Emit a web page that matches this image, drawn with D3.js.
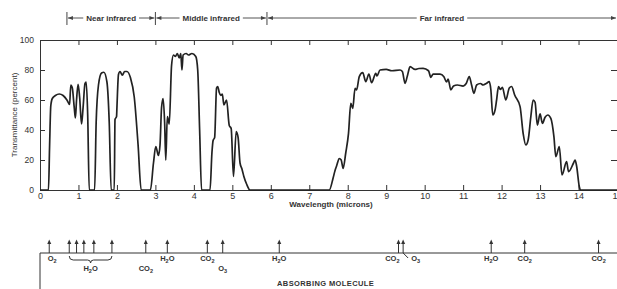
<!DOCTYPE html>
<html>
<head>
<meta charset="utf-8">
<script src="https://cdn.jsdelivr.net/npm/d3@7"></script>
<style>
  body { margin: 0; background: #fff; }
  text { font-family: "Liberation Sans", Arial, sans-serif; fill: #333; }
</style>
</head>
<body>
<div id="container"></div>
<script>

// Transmittance curve.
const wavelength = [
    0, 0.22, 0.25, 0.28, 0.32, 0.4, 0.5, 0.6, 0.7, 0.77, 0.8, 0.84, 0.89, 0.92, 0.95, 0.99, 1.03, 1.08, 1.12, 1.17, 1.2, 1.24, 1.28,
    1.42, 1.46, 1.52, 1.6, 1.66, 1.74, 1.8, 1.85,
    1.93, 1.95, 1.99, 2.0, 2.04, 2.08, 2.14, 2.2, 2.26, 2.35, 2.45, 2.55, 2.63,
    2.87, 2.95, 3.01, 3.08, 3.12, 3.16, 3.2, 3.24, 3.27, 3.31, 3.36, 3.42, 3.47, 3.52, 3.57, 3.62, 3.66, 3.69, 3.72, 3.8, 3.86, 3.95, 4.05, 4.1, 4.15, 4.2,
    4.42, 4.47, 4.5, 4.54, 4.59, 4.62, 4.66, 4.7, 4.74, 4.78, 4.85, 4.92, 4.97, 5.03, 5.1, 5.15, 5.2, 5.25, 5.3, 5.37, 5.46,
    7.52, 7.62, 7.67, 7.71, 7.78, 7.83, 7.88, 7.95, 8.02, 8.08, 8.13, 8.19, 8.23, 8.3, 8.39, 8.47, 8.55, 8.62, 8.73, 8.76, 8.84,
    9.0, 9.15, 9.36, 9.42, 9.49, 9.55, 9.62, 9.75, 9.85, 9.96, 10.1, 10.16, 10.22, 10.4, 10.5, 10.57, 10.61, 10.68, 10.75, 10.85, 11.0,
    11.08, 11.16, 11.22, 11.28, 11.35, 11.45, 11.52, 11.6, 11.68, 11.72, 11.77, 11.83, 11.87, 11.92, 11.97, 12.02, 12.11, 12.2, 12.26, 12.34,
    12.48, 12.56, 12.63, 12.69, 12.76, 12.82, 12.87, 12.93, 13.0, 13.06, 13.13, 13.2, 13.28, 13.36, 13.41, 13.5, 13.57, 13.69, 13.74, 13.87,
    13.91, 13.95, 14.02, 14.05, 15
];
const transmittance = [
    0, 0, 30, 56, 61, 63, 64, 63, 60, 57, 70, 68, 55, 48, 60, 70.5, 62, 44, 55, 71, 72, 50, 0,
    0, 45, 70, 78, 78.5, 72, 45, 0,
    0, 47, 49, 55, 77, 79, 76.5, 79, 79, 75, 62, 30, 0,
    0, 18, 29, 23, 30, 55, 61, 45, 20, 49, 44, 83, 90, 89, 91, 88, 91, 80, 90, 91, 90, 91, 89, 80, 40, 0,
    0, 25, 33, 35, 68, 69, 65, 63, 64, 56.7, 60, 43, 41, 9, 39, 35, 18, 14, 9, 4, 0,
    0, 8, 13, 16, 21, 20, 14.4, 25, 37.8, 57.8, 54.4, 67.8, 66.7, 75.6, 78.2, 72.2, 77.3, 71.6, 77.8, 76, 80,
    80.4, 79.5, 80, 79, 71.1, 76, 82.2, 80.4, 81, 81.1, 79.5, 75.1, 77.3, 77.3, 75.5, 72, 74, 66.7, 69.3, 70, 69.3,
    71, 75.6, 70, 64.4, 70, 71, 70, 71, 72.2, 67, 50, 53.3, 60, 68.9, 67, 68.5, 60, 68, 69, 63.3,
    55.6, 37.8, 30, 33.3, 48.9, 60, 58.5, 43.3, 50.7, 44.4, 48.5, 50, 47.8, 35.6, 22.2, 28.9, 10, 18.9, 12.2, 18,
    20, 16, 2.2, 0, 0
];

const xTicks = d3.range(0, 16);
const yTicks = [0, 20, 40, 60, 80, 100];

// Infrared regions along the top.
const regionEdges = [0.7, 3.0, 5.9, 15];
const regionNames = ['Near infrared', 'Middle infrared', 'Far infrared'];

// Absorbing molecules along the bottom.
const moleculeNames = ['O2', 'H2O', 'CO2', 'H2O', 'CO2', 'O3', 'H2O', 'CO2', 'O3', 'H2O', 'CO2', 'CO2'];
const moleculeBands = [[0.24], [0.76, 0.95, 1.14, 1.4, 1.87], [2.75], [3.31], [4.35], [4.75], [6.22], [9.32], [9.44], [11.73], [12.6], [14.52]];


window.addEventListener('DOMContentLoaded', (event) => {

    const svg = d3.select('#container')
        .append('svg')
        .attr('width', 617)
        .attr('height', 289);

    const x = d3.scaleLinear().domain([0, 15]).range([40, 617]);
    const y = d3.scaleLinear().domain([0, 100]).range([190, 40]);

    // Axes, ticks all pointing inward.
    svg.append('g')
        .attr('transform', 'translate(0,190)')
        .call(d3.axisBottom(x).tickValues(xTicks).tickSize(-5).tickSizeOuter(0).tickPadding(2.5))
        .call(g => g.selectAll('text').attr('font-size', 9));

    svg.append('g')
        .attr('transform', 'translate(0,40)')
        .call(d3.axisTop(x).tickValues(xTicks).tickSize(-5).tickSizeOuter(0).tickFormat(''));

    svg.append('g')
        .attr('transform', 'translate(40,0)')
        .call(d3.axisLeft(y).tickValues(yTicks).tickSize(-5).tickSizeOuter(0).tickPadding(6))
        .call(g => g.selectAll('text').attr('font-size', 8.5));

    svg.append('g')
        .attr('transform', 'translate(617,0)')
        .call(d3.axisRight(y).tickValues(yTicks).tickSize(-6).tickSizeOuter(0).tickFormat(''));

    svg.selectAll('.domain, .tick line').attr('stroke', '#333');
    svg.selectAll('.tick text').attr('fill', '#333');

    svg.append('text')
        .attr('transform', 'translate(17,115) rotate(-90)')
        .attr('text-anchor', 'middle')
        .attr('font-size', 8)
        .style('font-family', '"Liberation Sans Narrow", "Liberation Sans", sans-serif')
        .text('Transmittance (percent)');

    svg.append('text')
        .attr('x', 331)
        .attr('y', 207)
        .attr('text-anchor', 'middle')
        .attr('font-size', 8)
        .attr('font-weight', 'bold')
        .text('Wavelength (microns)');

    // Transmittance curve.
    const points = wavelength.map((w, i) => [w, transmittance[i]]);
    const line = d3.line()
        .x(d => x(d[0]))
        .y(d => y(d[1]))
        .curve(d3.curveMonotoneX);

    svg.append('path')
        .datum(points)
        .attr('d', line)
        .attr('fill', 'none')
        .attr('stroke', '#222')
        .attr('stroke-width', 1.7)
        .attr('stroke-linejoin', 'round');

    // Region brackets at the top.
    const top = svg.append('g');
    const arrowY = 18;
    const head = (px, dir) => `M${px},${arrowY} L${px - dir * 5},${arrowY - 2} L${px - dir * 5},${arrowY + 2} Z`;

    regionEdges.slice(0, 3).forEach(e => {
        top.append('line')
            .attr('x1', x(e)).attr('x2', x(e))
            .attr('y1', 12).attr('y2', 25)
            .attr('stroke', '#444');
    });

    regionNames.forEach((name, i) => {
        const a = x(regionEdges[i]) + 1;
        const b = Math.min(x(regionEdges[i + 1]) - 1, 616);
        const label = top.append('text')
            .attr('x', (a + b) / 2)
            .attr('y', arrowY + 3)
            .attr('text-anchor', 'middle')
            .attr('font-size', 8)
            .attr('font-weight', 'bold')
            .text(name);
        const w = label.node().getComputedTextLength();
        top.append('line')
            .attr('x1', a).attr('x2', (a + b) / 2 - w / 2 - 3)
            .attr('y1', arrowY).attr('y2', arrowY)
            .attr('stroke', '#555');
        top.append('line')
            .attr('x1', (a + b) / 2 + w / 2 + 3).attr('x2', b)
            .attr('y1', arrowY).attr('y2', arrowY)
            .attr('stroke', '#555');
        top.append('path').attr('d', head(a, -1)).attr('fill', '#444');
        top.append('path').attr('d', head(b, 1)).attr('fill', '#444');
    });

    // Absorbing molecule strip.
    const base = 253;
    const strip = svg.append('g');

    strip.append('line')
        .attr('x1', 40).attr('x2', 617)
        .attr('y1', base).attr('y2', base)
        .attr('stroke', '#333');
    strip.append('line')
        .attr('x1', 40).attr('x2', 40)
        .attr('y1', base).attr('y2', 289)
        .attr('stroke', '#333');

    moleculeBands.flat().forEach(w => {
        strip.append('line')
            .attr('x1', x(w)).attr('x2', x(w))
            .attr('y1', base).attr('y2', 243)
            .attr('stroke', '#333');
        strip.append('path')
            .attr('d', `M${x(w)},239.5 L${x(w) - 2},244 L${x(w) + 2},244 Z`)
            .attr('fill', '#333');
    });

    // Brace under the grouped water bands.
    const g1 = x(moleculeBands[1][0]);
    const g2 = x(moleculeBands[1][moleculeBands[1].length - 1]);
    const gm = (g1 + g2) / 2;
    strip.append('path')
        .attr('d', `M${g1},256 Q${g1},260 ${g1 + 4},260 L${gm - 3},260 Q${gm},260 ${gm},263 Q${gm},260 ${gm + 3},260 L${g2 - 4},260 Q${g2},260 ${g2},256`)
        .attr('fill', 'none')
        .attr('stroke', '#333');

    // Hook from the 9.6 micron arrow to its ozone label.
    strip.append('path')
        .attr('d', `M${x(moleculeBands[8][0])},${base} L${x(moleculeBands[8][0]) + 5},258`)
        .attr('fill', 'none')
        .attr('stroke', '#333');

    const lowerRow = [1, 2, 5];
    moleculeNames.forEach((name, i) => {
        const ws = moleculeBands[i];
        let cx = (x(ws[0]) + x(ws[ws.length - 1])) / 2;
        let anchor = 'middle';
        if (i === 0) cx += 3;
        if (i === 7) { cx += 1; anchor = 'end'; }
        if (i === 8) { cx += 8; anchor = 'start'; }
        const t = strip.append('text')
            .attr('x', cx)
            .attr('y', lowerRow.includes(i) ? 271 : 261)
            .attr('text-anchor', anchor)
            .attr('font-size', 7.5)
            .attr('font-weight', 'bold');
        if (name === 'H2O') {
            t.append('tspan').text('H');
            t.append('tspan').attr('font-size', 5.5).attr('dy', 1.5).text('2');
            t.append('tspan').attr('dy', -1.5).text('O');
        } else {
            t.append('tspan').text(name.replace(/\d/g, ''));
            t.append('tspan').attr('font-size', 5.5).attr('dy', 1.5).text(name.replace(/\D/g, ''));
        }
    });

    svg.append('text')
        .attr('x', 277)
        .attr('y', 286)
        .attr('font-size', 7.5)
        .attr('font-weight', 'bold')
        .attr('letter-spacing', 0.4)
        .text('ABSORBING MOLECULE');

}); // end of document ready
</script>
</body>
</html>
